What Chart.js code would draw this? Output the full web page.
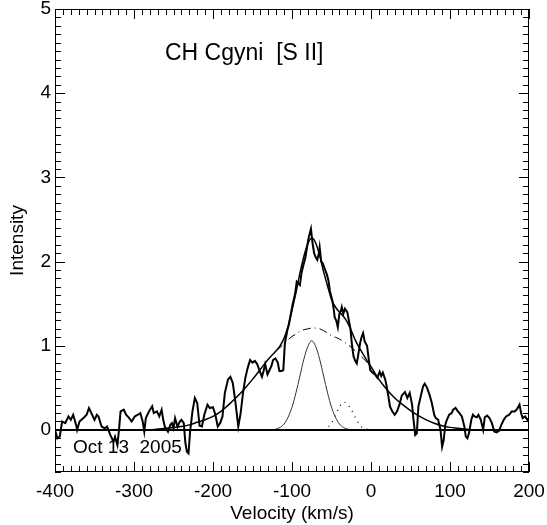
<!DOCTYPE html>
<html>
<head>
<meta charset="utf-8">
<script src="https://cdn.jsdelivr.net/npm/chart.js@4.4.0/dist/chart.umd.min.js"></script>
<style>
  html, body { margin: 0; padding: 0; background: #fff; }
  #wrap { width: 547px; height: 525px; }
</style>
</head>
<body>
<div id="wrap"><canvas id="chart" width="547" height="525"></canvas></div>
<script>
// axis ticks
const xTicks = [-400, -300, -200, -100, 0, 100, 200];
const yTicks = [0, 1, 2, 3, 4, 5];

// observed [S II] profile (velocity km/s, intensity)
const specV = [-400, -397, -394, -391, -387, -383, -380, -377, -373, -372, -369, -364, -360, -357, -354, -350,
  -347, -345, -341, -337, -334, -330, -326, -324, -321, -319, -317, -313, -310, -306, -303, -299, -295, -292,
  -289, -287, -285, -281, -277, -275, -271, -268, -265, -263, -261, -257, -254, -252, -250, -248, -245, -242,
  -240, -237, -235, -233, -231, -229, -226, -223, -220, -217, -214, -211, -207, -204, -200, -197, -194, -191,
  -188, -185, -181, -178, -175, -172, -168, -165, -162, -159, -156, -153, -150, -147, -144, -141, -138, -136,
  -134, -131, -129, -126, -124, -121, -118, -116, -113, -111, -109, -106, -104, -101, -99, -96, -94, -92, -90,
  -88, -86, -83, -81, -79, -76, -74, -72, -70, -68, -66, -65, -63, -61, -58, -56, -54, -52, -49, -47, -46, -44,
  -42, -40, -38, -37, -35, -33, -30, -28, -26, -24, -22, -20, -18, -16, -14, -12, -10, -8, -5, -3, -1, 2, 5, 8,
  11, 13, 15, 18, 20, 22, 24, 27, 30, 33, 36, 39, 43, 46, 49, 52, 54, 56, 58, 60, 63, 66, 68, 71, 74, 77, 80, 82,
  85, 88, 90, 92, 94, 96, 99, 102, 104, 107, 110, 112, 115, 118, 120, 122, 124, 127, 129, 131, 134, 136, 139, 142,
  144, 147, 150, 153, 156, 159, 162, 165, 168, 171, 175, 178, 182, 185, 188, 190, 192, 195, 198, 200];
const specI = [0.00, -0.10, -0.08, 0.10, 0.08, 0.16, 0.12, 0.18, 0.05, 0.00, 0.10, 0.14, 0.18, 0.26, 0.20, 0.12,
  0.18, 0.16, 0.04, 0.02, 0.04, -0.06, -0.14, -0.08, -0.18, 0.00, 0.22, 0.24, 0.18, 0.14, 0.10, 0.16, 0.18, 0.20,
  0.10, -0.02, 0.14, 0.22, 0.28, 0.20, 0.22, 0.16, 0.24, 0.12, 0.04, -0.02, 0.06, 0.08, 0.02, 0.14, 0.04, 0.10,
  0.12, 0.08, -0.15, -0.26, -0.28, -0.02, 0.22, 0.38, 0.32, 0.05, 0.04, 0.18, 0.30, 0.26, 0.27, 0.18, 0.04, 0.08,
  0.16, 0.44, 0.60, 0.63, 0.56, 0.36, 0.04, 0.20, 0.44, 0.62, 0.74, 0.83, 0.80, 0.82, 0.78, 0.70, 0.63, 0.70,
  0.78, 0.66, 0.70, 0.76, 0.83, 0.85, 0.80, 0.70, 0.70, 0.71, 1.03, 1.18, 1.25, 1.40, 1.50, 1.62, 1.76, 1.74, 1.72,
  1.86, 1.94, 2.05, 2.17, 2.28, 2.39, 2.22, 2.10, 2.05, 2.02, 2.10, 2.17, 2.00, 1.98, 1.90, 1.85, 1.78, 1.65, 1.54, 1.42, 1.34, 1.30,
  1.22, 1.38, 1.42, 1.46, 1.38, 1.44, 1.40, 1.30, 1.20, 1.00, 0.87, 0.82, 0.79, 0.90, 1.02, 1.10, 1.15, 1.05, 1.00, 0.85, 0.71, 0.68, 0.66, 0.62,
  0.69, 0.64, 0.68, 0.60, 0.51, 0.40, 0.28, 0.22, 0.18, 0.22, 0.30, 0.41, 0.45, 0.38, 0.44, 0.30, 0.10, -0.06, -0.04, 0.28, 0.40, 0.52, 0.55, 0.50, 0.42, 0.32, 0.18, 0.14,
  0.12, 0.00, -0.20, -0.12, 0.06, 0.12, 0.18, 0.20, 0.24, 0.26, 0.22, 0.20, 0.16, 0.05, -0.08, -0.10, -0.04, 0.12, 0.18, 0.16, 0.15, 0.18, 0.12, 0.00,
  0.15, 0.17, 0.14, 0.08, -0.02, -0.03, -0.01, 0.06, 0.12, 0.16, 0.18, 0.22, 0.22, 0.25, 0.30, 0.20, 0.14, 0.16, 0.12, 0.14];

// total fit
const fitV = [-400, -280, -270, -260, -250, -240, -230, -220, -210, -200, -190, -180, -170, -160, -150, -140, -130,
  -120, -115, -110, -105, -100, -95, -90, -85, -80, -75, -70, -65, -60, -55, -50, -45, -40, -35, -30, -25, -20,
  -15, -10, -5, 0, 10, 20, 30, 40, 50, 60, 70, 80, 90, 100, 110, 120, 130, 200];
const fitI = [0, 0, 0.01, 0.02, 0.03, 0.04, 0.06, 0.09, 0.12, 0.16, 0.22, 0.30, 0.39, 0.49, 0.60, 0.72, 0.84,
  0.94, 1.00, 1.09, 1.23, 1.42, 1.63, 1.86, 2.06, 2.21, 2.28, 2.22, 2.07, 1.88, 1.71, 1.55, 1.46, 1.40, 1.35, 1.28, 1.18, 1.07,
  0.98, 0.90, 0.82, 0.75, 0.60, 0.48, 0.38, 0.30, 0.23, 0.17, 0.12, 0.08, 0.05, 0.03, 0.02, 0.01, 0, 0];

// broad component (dash-dot)
const broadV = [-120, -115, -110, -105, -100, -95, -90, -85, -80, -75, -70, -65, -60, -55, -50, -45, -40, -35, -30, -25, -20, -15, -10, -5, 0];
const broadI = [0.94, 0.98, 1.02, 1.07, 1.11, 1.14, 1.17, 1.19, 1.20, 1.21, 1.21, 1.20, 1.18, 1.15, 1.12, 1.10, 1.08, 1.05, 1.02, 0.98, 0.94, 0.89, 0.85, 0.80, 0.75];

// narrow component (thin solid)
const narrowV = [-125, -120, -115, -110, -105, -100, -95, -90, -85, -80, -75, -70, -65, -60, -55, -50, -45, -40, -35, -30, -25];
const narrowI = [0, 0.01, 0.03, 0.07, 0.15, 0.27, 0.44, 0.64, 0.84, 0.99, 1.06, 0.99, 0.84, 0.64, 0.44, 0.27, 0.15, 0.07, 0.03, 0.01, 0];

// red-shifted component (dotted)
const dotV = [-60, -55, -50, -45, -40, -35, -30, -25, -20, -15, -10, -5, 0];
const dotI = [0, 0.03, 0.08, 0.17, 0.27, 0.33, 0.31, 0.24, 0.15, 0.07, 0.02, 0.01, 0];

const zeroV = [-400, 200];
const zeroI = [0, 0];

const pts = (xs, ys) => xs.map((x, i) => ({ x, y: ys[i] }));
const FONT = '"Liberation Sans", Arial, Helvetica, sans-serif';

const frame = {
  id: 'frame',
  afterDraw(chart) {
    const { ctx, chartArea: a, scales: { x, y } } = chart;
    ctx.save();
    ctx.strokeStyle = '#000';
    ctx.lineWidth = 1;
    ctx.strokeRect(a.left + 0.5, a.top + 0.5, a.right - a.left - 1, a.bottom - a.top - 1);
    ctx.beginPath();
    for (let v = -400; v <= 200; v += 10) {
      const px = Math.round(x.getPixelForValue(v)) + 0.5;
      const len = v % 100 === 0 ? 10 : 6;
      ctx.moveTo(px, a.bottom); ctx.lineTo(px, a.bottom - len);
      ctx.moveTo(px, a.top); ctx.lineTo(px, a.top + len);
    }
    for (let k = -5; k <= 50; k++) {
      const py = Math.round(y.getPixelForValue(k / 10)) + 0.5;
      const len = k % 10 === 0 ? 10 : 6;
      ctx.moveTo(a.left, py); ctx.lineTo(a.left + len, py);
      ctx.moveTo(a.right, py); ctx.lineTo(a.right - len, py);
    }
    ctx.stroke();
    ctx.fillStyle = '#000';
    ctx.textBaseline = 'alphabetic';
    ctx.textAlign = 'left';
    ctx.font = '23px ' + FONT;
    ctx.fillText('CH Cgyni  [S II]', 165, 60);
    ctx.font = '19px ' + FONT;
    ctx.fillText('Oct 13  2005', 73, 453);
    ctx.restore();
  }
};

new Chart(document.getElementById('chart'), {
  type: 'line',
  data: {
    datasets: [
      { data: pts(zeroV, zeroI), borderColor: '#000', borderWidth: 2 },
      { data: pts(narrowV, narrowI), borderColor: '#333', borderWidth: 1, cubicInterpolationMode: 'monotone' },
      { data: pts(dotV, dotI), borderColor: '#000', borderWidth: 1.2, borderDash: [1, 5], cubicInterpolationMode: 'monotone' },
      { data: pts(broadV, broadI), borderColor: '#000', borderWidth: 1, borderDash: [8, 4, 1, 4], cubicInterpolationMode: 'monotone' },
      { data: pts(fitV, fitI), borderColor: '#000', borderWidth: 1.5, cubicInterpolationMode: 'monotone' },
      { data: pts(specV, specI), borderColor: '#000', borderWidth: 2 }
    ]
  },
  options: {
    responsive: false,
    animation: false,
    events: [],
    layout: { padding: { left: 0, top: 9, right: 18, bottom: 0 } },
    elements: { point: { radius: 0 }, line: { tension: 0 } },
    plugins: { legend: { display: false }, tooltip: { enabled: false } },
    scales: {
      x: {
        type: 'linear', min: -400, max: 200,
        afterBuildTicks: s => { s.ticks = xTicks.map(v => ({ value: v })); },
        afterFit: s => { s.height = 53; s.paddingLeft = 0; s.paddingRight = 0; },
        grid: { display: false, drawTicks: false },
        border: { display: false },
        ticks: { color: '#000', font: { family: FONT, size: 19 }, padding: 8, maxRotation: 0 },
        title: { display: true, text: 'Velocity (km/s)', color: '#000', font: { family: FONT, size: 19 }, padding: { top: 3, bottom: 0 } }
      },
      y: {
        type: 'linear', min: -0.5, max: 5,
        afterBuildTicks: s => { s.ticks = yTicks.map(v => ({ value: v })); },
        afterFit: s => { s.width = 55; s.paddingTop = 0; s.paddingBottom = 0; },
        grid: { display: false, drawTicks: false },
        border: { display: false },
        ticks: { color: '#000', font: { family: FONT, size: 19 }, padding: 4 },
        title: { display: true, text: 'Intensity', color: '#000', font: { family: FONT, size: 19 }, padding: { top: 6, bottom: 0 } }
      }
    }
  },
  plugins: [frame]
});
</script>
</body>
</html>
